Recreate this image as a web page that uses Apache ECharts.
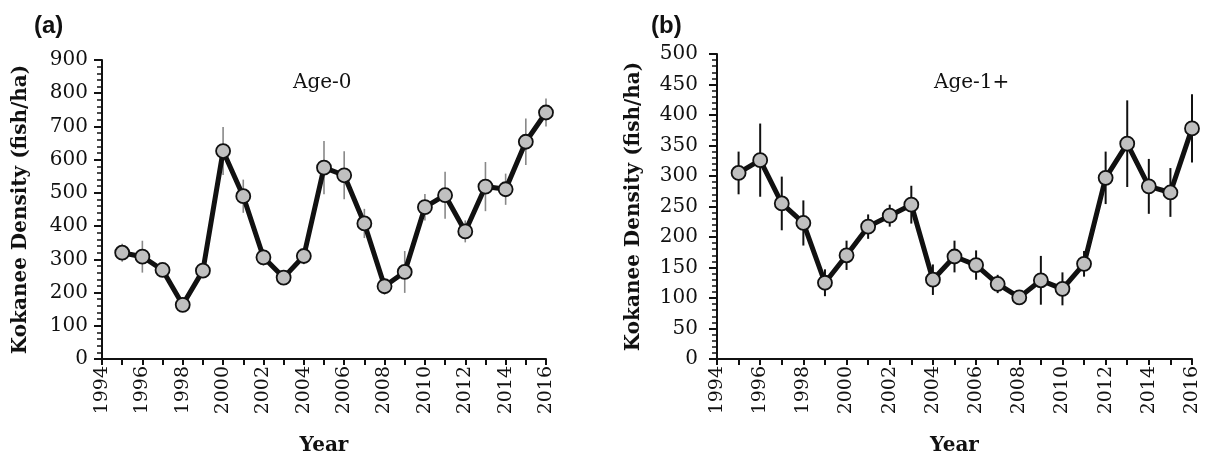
<!DOCTYPE html>
<html><head><meta charset="utf-8">
<script src="https://cdn.jsdelivr.net/npm/echarts@6/dist/echarts.min.js"></script>
<style>html,body{margin:0;padding:0;background:#fff}#c{width:1210px;height:461px}</style>
</head><body><div id="c"></div>
<script>
const years = [1995,1996,1997,1998,1999,2000,2001,2002,2003,2004,2005,2006,2007,2008,2009,2010,2011,2012,2013,2014,2015,2016];
const age0 = [320,308,268,163,266,626,490,306,245,310,576,553,408,219,262,457,493,384,519,511,654,742];
const age0Err = [27,48,20,10,10,72,50,25,15,25,80,72,44,25,63,40,71,33,74,47,70,42];
const age1 = [305,326,255,223,125,170,217,235,253,130,168,154,123,101,129,115,156,297,353,283,273,378];
const age1Err = [35,60,44,37,22,24,20,18,31,25,26,24,15,5,40,27,21,43,71,45,40,56];
const yTicksA = {min:0, max:900, interval:100};
const yTicksB = {min:0, max:500, interval:50};
const xTicks = {min:1994, max:2016, interval:1};

const serif = 'DejaVu Serif';
const ink = '#111';

function errData(vals, errs){ return years.map((y,i)=>[y, vals[i]-errs[i], vals[i]+errs[i]]); }
function errSeries(idx, vals, errs, color, w){
  return {
    type:'custom', xAxisIndex:idx, yAxisIndex:idx, z:1, silent:true,
    data: errData(vals, errs),
    renderItem:(params, api)=>{
      const p1 = api.coord([api.value(0), api.value(1)]);
      const p2 = api.coord([api.value(0), api.value(2)]);
      return {type:'line', shape:{x1:p1[0],y1:p1[1],x2:p2[0],y2:p2[1]}, style:{stroke:color, lineWidth:w}};
    }
  };
}
function lineSeries(idx, vals){
  return {
    type:'line', xAxisIndex:idx, yAxisIndex:idx, z:3,
    data: years.map((y,i)=>[y, vals[i]]),
    symbol:'circle', symbolSize:14,
    lineStyle:{color:ink, width:5},
    itemStyle:{color:'#c0c0c0', borderColor:ink, borderWidth:1.8},
    emphasis:{disabled:true}, animation:false
  };
}
function xAxis(idx){
  return {
    type:'value', gridIndex:idx, min:xTicks.min, max:xTicks.max, interval:xTicks.interval,
    name:'Year', nameLocation:'middle', nameGap:77,
    nameTextStyle:{fontFamily:serif, fontWeight:'bold', fontSize:20, color:ink},
    axisLine:{lineStyle:{color:ink, width:2}},
    axisTick:{show:true, inside:false, length:6, lineStyle:{color:ink, width:2}},
    axisLabel:{rotate:90, margin:7, fontFamily:serif, fontSize:19, color:ink,
      formatter:v=> (v%2===0 ? String(v) : '')},
    splitLine:{show:false}
  };
}
function yAxis(idx, t, margin, gap){
  return {
    type:'value', gridIndex:idx, min:t.min, max:t.max, interval:t.interval,
    name:'Kokanee Density (fish/ha)', nameLocation:'middle', nameRotate:90, nameGap:gap,
    nameTextStyle:{fontFamily:serif, fontWeight:'bold', fontSize:20, color:ink},
    axisLine:{show:true, lineStyle:{color:ink, width:2}},
    axisTick:{show:true, inside:false, length:8, lineStyle:{color:ink, width:2}},
    minorTick:{show:true, splitNumber:5, length:5, lineStyle:{color:ink, width:1.5}},
    axisLabel:{margin:margin, fontFamily:serif, fontSize:20, color:ink},
    splitLine:{show:false}, minorSplitLine:{show:false}
  };
}
const chart = echarts.init(document.getElementById('c'), null, {renderer:'canvas'});
chart.setOption({
  animation:false,
  title:[
    {text:'(a)', left:29, top:9, textStyle:{fontFamily:'Liberation Sans', fontWeight:'bold', fontSize:24, color:ink}},
    {text:'(b)', left:646, top:9, textStyle:{fontFamily:'Liberation Sans', fontWeight:'bold', fontSize:24, color:ink}},
    {text:'Age-0', left:288, top:68, textStyle:{fontFamily:serif, fontWeight:'normal', fontSize:20, color:ink}},
    {text:'Age-1+', left:929, top:68, textStyle:{fontFamily:serif, fontWeight:'normal', fontSize:20, color:ink}}
  ],
  grid:[
    {left:102, right:664, top:60, bottom:98},
    {left:717, right:18, top:54, bottom:98}
  ],
  xAxis:[xAxis(0), xAxis(1)],
  yAxis:[yAxis(0, yTicksA, 14, 71), yAxis(1, yTicksB, 19, 73)],
  series:[
    errSeries(0, age0, age0Err, '#888', 1.6),
    lineSeries(0, age0),
    errSeries(1, age1, age1Err, ink, 2),
    lineSeries(1, age1)
  ]
});
</script></body></html>
